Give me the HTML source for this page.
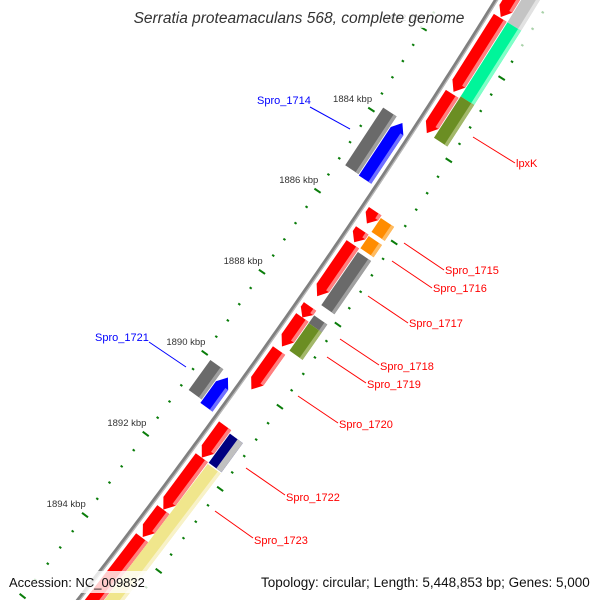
<!DOCTYPE html>
<html><head><meta charset="utf-8"><style>
html,body{margin:0;padding:0;background:#fff;overflow:hidden;width:600px;height:600px;}
svg{display:block;font-family:"Liberation Sans",sans-serif;overflow:hidden;}
</style></head><body>
<svg id="map" width="600" height="600" viewBox="0 0 600 600" xmlns="http://www.w3.org/2000/svg">
<rect width="600" height="600" fill="#fff"/>
<g id="ticks"></g>
<g id="backbone"></g>
<g id="features"></g>
<g id="labels">
  <g><line x1="310" y1="107" x2="350" y2="129" stroke="#0000ff" stroke-width="1"/><text x="257" y="104" font-size="11" fill="#0000ff">Spro_1714</text></g>
  <g><line x1="473" y1="137" x2="515" y2="163" stroke="#ff0000" stroke-width="1"/><text x="516" y="167" font-size="11" fill="#ff0000">lpxK</text></g>
  <g><line x1="404" y1="243" x2="444" y2="270" stroke="#ff0000" stroke-width="1"/><text x="445" y="274" font-size="11" fill="#ff0000">Spro_1715</text></g>
  <g><line x1="392" y1="261" x2="432" y2="288" stroke="#ff0000" stroke-width="1"/><text x="433" y="292" font-size="11" fill="#ff0000">Spro_1716</text></g>
  <g><line x1="368" y1="296" x2="408" y2="323" stroke="#ff0000" stroke-width="1"/><text x="409" y="327" font-size="11" fill="#ff0000">Spro_1717</text></g>
  <g><line x1="340" y1="339" x2="379" y2="365" stroke="#ff0000" stroke-width="1"/><text x="380" y="370" font-size="11" fill="#ff0000">Spro_1718</text></g>
  <g><line x1="327" y1="357" x2="366" y2="383" stroke="#ff0000" stroke-width="1"/><text x="367" y="388" font-size="11" fill="#ff0000">Spro_1719</text></g>
  <g><line x1="298" y1="396" x2="338" y2="423" stroke="#ff0000" stroke-width="1"/><text x="339" y="428" font-size="11" fill="#ff0000">Spro_1720</text></g>
  <g><line x1="149" y1="342" x2="186" y2="367" stroke="#0000ff" stroke-width="1"/><text x="95" y="341" font-size="11" fill="#0000ff">Spro_1721</text></g>
  <g><line x1="246" y1="468" x2="285" y2="495" stroke="#ff0000" stroke-width="1"/><text x="286" y="501" font-size="11" fill="#ff0000">Spro_1722</text></g>
  <g><line x1="215" y1="511" x2="253" y2="538" stroke="#ff0000" stroke-width="1"/><text x="254" y="544" font-size="11" fill="#ff0000">Spro_1723</text></g>
</g>
<rect x="128" y="4" width="344" height="24" fill="#fff" opacity="0.82"/>
<text x="299" y="23" text-anchor="middle" font-size="15.5" font-style="italic" fill="#333">Serratia proteamaculans 568, complete genome</text>
<rect x="4" y="571" width="145" height="22" fill="#fff" opacity="0.8"/>
<text x="9" y="587" font-size="13" fill="#111">Accession: NC_009832</text>
<rect x="256" y="571" width="340" height="22" fill="#fff" opacity="0.8"/>
<text x="261" y="587" font-size="13.5" fill="#111">Topology: circular; Length: 5,448,853 bp; Genes: 5,000</text>
</svg>
<script>
// ---- data (kbp) ----
var tickStartKbp = 1880;
var tickStepKbp = 0.4;
var tickCount = 41;
var tickLabelValues = [1882, 1884, 1886, 1888, 1890, 1892, 1894];
var tickLabelTexts = ["1882 kbp", "1884 kbp", "1886 kbp", "1888 kbp", "1890 kbp", "1892 kbp", "1894 kbp"];
var geneNames = ["r1","r2","lpxK-red","s1715-red","s1716-red","s1717-red","s1718-red","s1719-red","s1720-red","r1722a","r1722b","r1723a","r1723b",
  "grey-top","green","lpxK-olive","s1715-orange","s1716-orange","s1717-grey","s1718-grey","s1719-olive","s1722-navy","s1723-yellow",
  "s1714-blue","s1714-grey","s1721-grey","s1721-blue"];
var geneStart = [1879.5,1880.96,1882.82,1885.69,1886.16,1886.50,1888.02,1888.29,1889.10,1890.94,1891.72,1892.99,1893.68,
  1879.5,1880.96,1882.77,1885.74,1886.18,1886.57,1888.12,1888.31,1891.01,1891.75,
  1883.88,1883.83,1890.05,1890.13];
var geneEnd = [1880.94,1882.77,1883.78,1885.99,1886.45,1887.77,1888.29,1889.00,1890.05,1891.72,1892.99,1893.66,1896.5,
  1880.96,1882.77,1883.78,1886.08,1886.48,1887.87,1888.31,1888.98,1891.72,1896.5,
  1885.27,1885.25,1890.79,1890.86];
var geneTrack = ["o1","o1","o1","o1","o1","o1","o1","o1","o1","o1","o1","o1","o1",
  "o2","o2","o2","o2","o2","o2","o2","o2","o2","o2",
  "i1","i2","i2","i1"];
var geneKind = ["red","red","red","red","red","red","red","red","red","red","red","red","red",
  "lightgrey","green","olive","orange","orange","grey","grey","olive","navy","yellow",
  "blue","grey","grey","blue"];
var geneDir = [1,1,1,1,1,1,1,1,1,1,1,1,1, 0,0,0,0,0,0,0,0,0,0, -1,0,0,-1];

// ---- styles / geometry ----
var trackOffset = {o1:13, o2:29.5, i1:-13, i2:-29.5};
var trackHalf = {o1:7.5, o2:8, i1:7.5, i2:8};
var kindColor = {red:["#ff0000","#ff8080"], lightgrey:["#c4c4c4","#e2e2e2"], green:["#00f59a","#80ffc8"], olive:["#6b8e23","#a3b86a"],
  orange:["#ff8c00","#ffbb60"], grey:["#6a6a6a","#a0a0a0"], navy:["#000080","#c0c0c0"], yellow:["#f0e68c","#f8f2c8"], blue:["#0000ff","#7070ff"]};
var NS = "http://www.w3.org/2000/svg";

function kbpToF(k){ return 135 + (k - 1884) * 40.8; }
function P(k, d){
  var f = kbpToF(k);
  var xb = 496 - 0.619*f - 0.000129*f*f;
  var s = -0.619 - 0.000258*f;
  var L = Math.sqrt(1 + s*s);
  return [xb + d/L, f + d*(-s)/L];
}
function mk(tag, parent){ var e = document.createElementNS(NS, tag); parent.appendChild(e); return e; }
function pts(arr){ return arr.map(function(p){return p[0].toFixed(2)+","+p[1].toFixed(2);}).join(" "); }

// backbone
(function(){
  var g = document.getElementById("backbone");
  var a = [], b = [];
  for (var k = 1879; k <= 1896.8; k += 0.1){ a.push(P(k, 0)); b.push(P(k, 1.4)); }
  var l1 = mk("polyline", g);
  
  
  l1.setAttribute("points", pts(a)); l1.setAttribute("fill","none"); l1.setAttribute("stroke","#808080"); l1.setAttribute("stroke-width","4");
  var l2 = mk("polyline", g);
  
  
  l2.setAttribute("points", pts(b)); l2.setAttribute("fill","none"); l2.setAttribute("stroke","#b8b8b8"); l2.setAttribute("stroke-width","1.3");
})();

// ticks
(function(){
  var g = document.getElementById("ticks");
  for (var i = 0; i < tickCount; i++){
    var k = tickStartKbp + i*tickStepKbp;
    var major = (i % 5 === 0);
    [-1, 1].forEach(function(side){
      var a = P(k, side*(major ? 42.5 : 45)), b = P(k, side*(major ? 50 : 47.5));
      var t = mk("line", g);
      
      
      t.setAttribute("x1",a[0]); t.setAttribute("y1",a[1]); t.setAttribute("x2",b[0]); t.setAttribute("y2",b[1]);
      t.setAttribute("stroke","#0a7d0a"); t.setAttribute("stroke-width","2");
      if (k < 1881.5) t.setAttribute("opacity","0.35");
    });
  }
  for (var j = 0; j < tickLabelValues.length; j++){
    var p = P(tickLabelValues[j], -46);
    var tx = mk("text", g);
    
    
    tx.setAttribute("x", p[0]-19); tx.setAttribute("y", p[1]-8);
    tx.setAttribute("text-anchor","middle"); tx.setAttribute("font-size","9.5"); tx.setAttribute("fill","#333");
    tx.textContent = tickLabelTexts[j];
  }
})();

// features
(function(){
  var g = document.getElementById("features");
  var head = 0.2; // kbp
  for (var i = 0; i < geneNames.length; i++){
    var c = trackOffset[geneTrack[i]], h = trackHalf[geneTrack[i]];
    var s = geneStart[i], e = geneEnd[i], dir = geneDir[i];
    var hd = Math.min(head, (e - s)*0.6);
    var body;
    if (dir === 1){
      body = [P(s,c-h), P(s,c+h), P(e-hd,c+h), P(e,c), P(e-hd,c-h)];
    } else if (dir === -1){
      body = [P(s+hd,c-h), P(s,c), P(s+hd,c+h), P(e,c+h), P(e,c-h)];
    } else {
      body = [P(s,c-h), P(s,c+h), P(e,c+h), P(e,c-h)];
    }
    var col = kindColor[geneKind[i]];
    var poly = mk("polygon", g);
    
    
    poly.setAttribute("points", pts(body)); poly.setAttribute("fill", col[0]);
    var sw = geneKind[i] === "navy" ? 6.5 : 3.5;
    var s2 = dir === -1 ? s + hd : s, e2 = dir === 1 ? e - hd : e;
    var stripe = [P(s2,c+h-sw), P(s2,c+h), P(e2,c+h), P(e2,c+h-sw)];
    var st = mk("polygon", g);
    
    
    st.setAttribute("points", pts(stripe)); st.setAttribute("fill", col[1]);
  }
})();
</script>
</body></html>
